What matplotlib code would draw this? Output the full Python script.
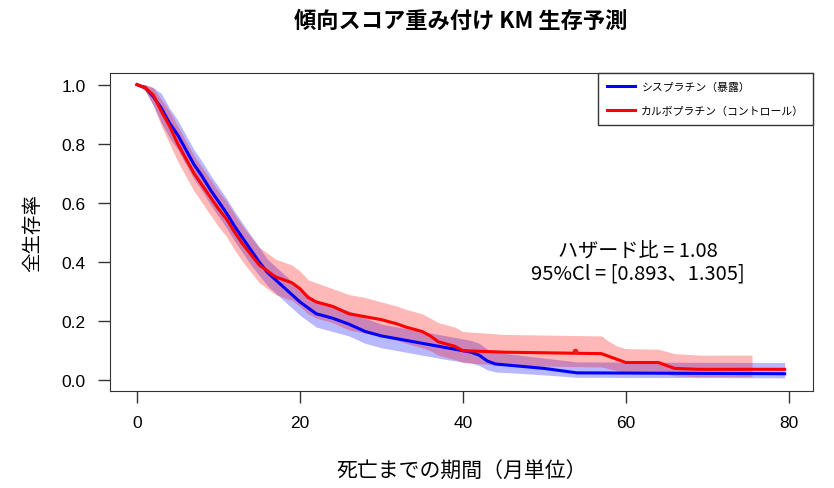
import numpy as np
import matplotlib
matplotlib.use("Agg")
import matplotlib.pyplot as plt

plt.rcParams['font.family'] = ['Noto Sans CJK JP', 'DejaVu Sans']

# シスプラチン（暴露）
cis_t = [0, 1, 2, 3, 4, 5, 6, 7, 8, 9, 10, 11, 12, 13, 14, 15, 16, 17, 18, 19,
         20, 22, 24, 26, 28, 30, 32, 34, 36, 38, 40, 41, 42, 43, 44, 46, 50, 54, 79.5]
cis_s = [1.0, 0.99, 0.96, 0.92, 0.87, 0.83, 0.78, 0.73, 0.69, 0.645, 0.605, 0.565, 0.52, 0.48,
         0.44, 0.40, 0.365, 0.34, 0.315, 0.29, 0.265, 0.225, 0.21, 0.19, 0.165, 0.15, 0.14,
         0.13, 0.12, 0.11, 0.10, 0.095, 0.085, 0.065, 0.055, 0.05, 0.04, 0.025, 0.022]
cis_lo = [1.0, 0.98, 0.93, 0.87, 0.82, 0.78, 0.73, 0.68, 0.64, 0.595, 0.555, 0.515, 0.47, 0.43,
          0.39, 0.355, 0.32, 0.295, 0.27, 0.245, 0.22, 0.18, 0.165, 0.15, 0.125, 0.11, 0.10,
          0.09, 0.08, 0.07, 0.062, 0.058, 0.05, 0.035, 0.028, 0.025, 0.018, 0.01, 0.008]
cis_hi = [1.0, 1.0, 0.99, 0.97, 0.92, 0.88, 0.83, 0.78, 0.74, 0.695, 0.655, 0.615, 0.57, 0.53,
          0.49, 0.45, 0.41, 0.385, 0.36, 0.335, 0.31, 0.27, 0.255, 0.235, 0.21, 0.19, 0.18,
          0.17, 0.16, 0.15, 0.14, 0.135, 0.125, 0.105, 0.095, 0.088, 0.075, 0.062, 0.06]

# カルボプラチン（コントロール）
carbo_t = [0, 1, 2, 3, 4, 5, 6, 7, 8, 9, 10, 11, 12, 13, 14, 15, 16, 17, 18, 19,
           20, 21, 22, 24, 26, 28, 30, 32, 33, 35, 36, 37, 39, 40, 45, 57, 58, 59, 60,
           64, 66, 69, 75.5, 79.5]
carbo_s = [1.0, 0.99, 0.965, 0.91, 0.86, 0.80, 0.75, 0.70, 0.66, 0.62, 0.58, 0.545, 0.50, 0.46,
           0.425, 0.39, 0.37, 0.35, 0.34, 0.33, 0.31, 0.28, 0.265, 0.25, 0.225, 0.215, 0.205,
           0.19, 0.18, 0.165, 0.15, 0.13, 0.115, 0.10, 0.095, 0.09, 0.08, 0.07, 0.06,
           0.06, 0.04, 0.037, 0.037, 0.037]
carbo_lo = [1.0, 0.98, 0.93, 0.86, 0.80, 0.74, 0.69, 0.64, 0.60, 0.56, 0.52, 0.485, 0.44, 0.40,
            0.365, 0.33, 0.31, 0.29, 0.28, 0.27, 0.25, 0.225, 0.21, 0.195, 0.17, 0.16, 0.15,
            0.135, 0.125, 0.11, 0.10, 0.085, 0.07, 0.06, 0.05, 0.045, 0.038, 0.032, 0.028,
            0.025, 0.015, 0.012, 0.012, 0.012]
carbo_hi = [1.0, 1.0, 0.99, 0.95, 0.91, 0.86, 0.81, 0.76, 0.72, 0.68, 0.64, 0.605, 0.56, 0.52,
            0.485, 0.45, 0.43, 0.41, 0.40, 0.39, 0.37, 0.34, 0.33, 0.31, 0.29, 0.28, 0.265,
            0.25, 0.24, 0.225, 0.21, 0.195, 0.18, 0.165, 0.155, 0.15, 0.13, 0.115, 0.107,
            0.105, 0.09, 0.085, 0.085, 0.085]
carbo_band_end = 75.5

# 打ち切り点
cens_t = [53.8]
cens_s = [0.098]

hr_text = "ハザード比 = 1.08\n95%Cl = [0.893、1.305]"

cis_t = np.array(cis_t)
carbo_t = np.array(carbo_t)

fig = plt.figure(figsize=(8.34, 4.89), dpi=100)
ax = fig.add_axes([0.132, 0.198, 0.843, 0.651])

ax.fill_between(cis_t, cis_lo, cis_hi, color='#0000FF', alpha=0.28, lw=0)
ax.fill_between(carbo_t, carbo_lo, carbo_hi, where=carbo_t <= carbo_band_end,
                color='#FF0000', alpha=0.28, lw=0)

ax.plot(cis_t, cis_s, color='#0000FF', lw=2.2, label='シスプラチン（暴露）')
ax.plot(carbo_t, carbo_s, color='#FF0000', lw=2.2, label='カルボプラチン（コントロール）')
ax.plot(cens_t, cens_s, 'o', color='#E02020', ms=3)

ax.set_xlim(-3.3, 83)
ax.set_ylim(-0.037, 1.04)
ax.set_xticks([0, 20, 40, 60, 80])
ax.set_yticks([0.0, 0.2, 0.4, 0.6, 0.8, 1.0])
ax.set_yticklabels(['0.0', '0.2', '0.4', '0.6', '0.8', '1.0'])
for lab in ax.get_xticklabels() + ax.get_yticklabels():
    lab.set_family('Liberation Sans')
    lab.set_fontsize(12.5)
ax.tick_params(length=8.5, width=1, pad=9, color='#333333')
for sp in ax.spines.values():
    sp.set_color('#333333')

ax.text(61.5, 0.4, hr_text, ha='center', va='center', fontsize=14.5, linespacing=1.0)

leg = ax.legend(loc='upper right', borderaxespad=0, fontsize=7.8, handlelength=2.6,
                handletextpad=0.6, fancybox=False, edgecolor='#333333', framealpha=1,
                borderpad=0.8, labelspacing=1.3)
leg.get_frame().set_linewidth(1.0)

ax.set_xlabel('死亡までの期間（月単位）', fontsize=15, labelpad=21)
ax.set_ylabel('全生存率', fontsize=14, labelpad=13)
fig.suptitle('傾向スコア重み付け KM 生存予測', fontsize=16, fontweight='bold', x=0.552, y=0.98)

fig.savefig('out.png', dpi=100)
